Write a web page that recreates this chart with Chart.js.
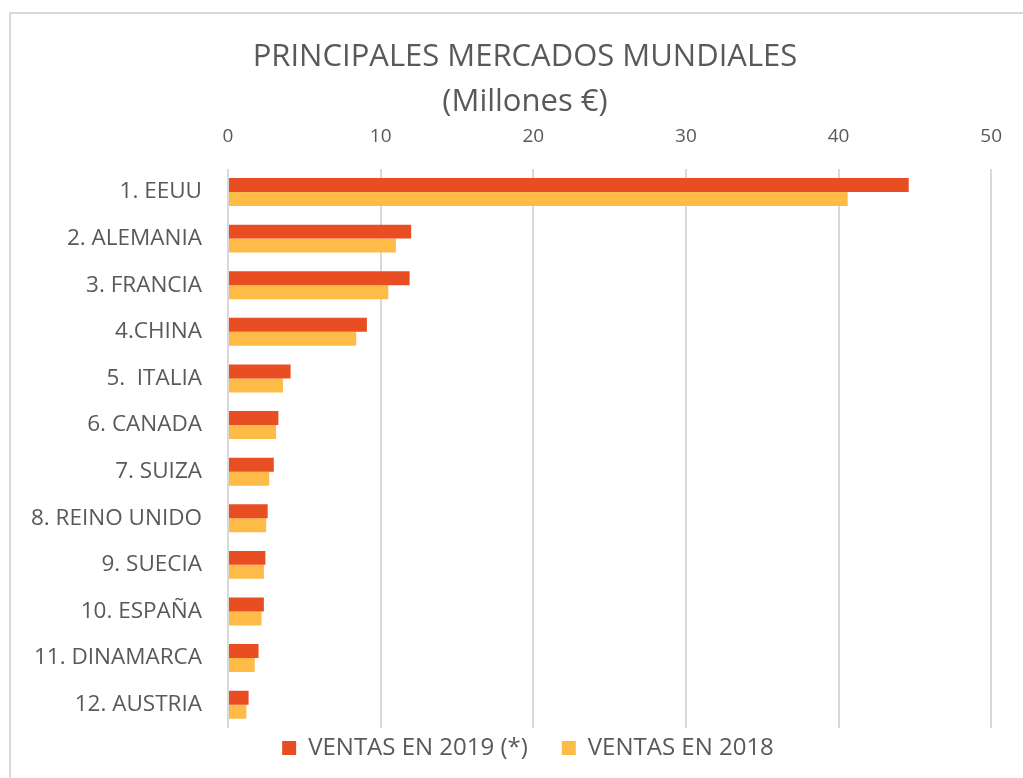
<!DOCTYPE html>
<html>
<head>
<meta charset="utf-8">
<script src="https://cdn.jsdelivr.net/npm/chart.js@4.4.0/dist/chart.umd.min.js"></script>
<style>
html,body{margin:0;padding:0;background:#fff;}
#wrap{position:relative;width:1023px;height:778px;overflow:hidden;}
#frame{position:absolute;left:9px;top:12px;width:1100px;height:800px;border:2px solid #d9d9d9;box-sizing:border-box;}
canvas{position:absolute;left:0;top:0;}
</style>
</head>
<body>
<div id="wrap">
<div id="frame"></div>
<canvas id="c" width="1023" height="778"></canvas>
</div>
<script>
const categories = ["1. EEUU","2. ALEMANIA","3. FRANCIA","4.CHINA","5.  ITALIA","6. CANADA","7. SUIZA","8. REINO UNIDO","9. SUECIA","10. ESPAÑA","11. DINAMARCA","12. AUSTRIA"];
const ventas2019 = [44.6, 12.0, 11.9, 9.1, 4.1, 3.3, 3.0, 2.6, 2.45, 2.35, 2.0, 1.35];
const ventas2018 = [40.6, 11.0, 10.5, 8.4, 3.6, 3.15, 2.7, 2.5, 2.35, 2.2, 1.75, 1.2];
const xTicks = [0, 10, 20, 30, 40, 50];
const titleLines = ["PRINCIPALES MERCADOS MUNDIALES", "(Millones €)"];

const FONT = "'Open Sans', 'Liberation Sans', sans-serif";
const GRAY = "#595959";

// centre title and legend on the framed chart and lift the legend a little, as in the original
const centerBoxes = {
  id: 'centerBoxes',
  afterLayout(chart) {
    if (chart.titleBlock) { chart.titleBlock.left = 57; chart.titleBlock.right = 993; }
    if (chart.legend) {
      chart.legend.left = 63; chart.legend.right = 993;
      chart.legend.top -= 26; chart.legend.bottom -= 26;
    }
  }
};

new Chart(document.getElementById('c'), {
  type: 'bar',
  plugins: [centerBoxes],
  data: {
    labels: categories,
    datasets: [
      {label: "VENTAS EN 2019 (*)", data: ventas2019, backgroundColor: "#E84E22", borderWidth: 0},
      {label: "VENTAS EN 2018", data: ventas2018, backgroundColor: "#FFBB48", borderWidth: 0}
    ]
  },
  options: {
    indexAxis: 'y',
    responsive: false,
    animation: false,
    devicePixelRatio: 1,
    layout: {padding: {left: 10, right: 30, top: 35, bottom: -18}},
    datasets: {bar: {categoryPercentage: 0.6, barPercentage: 1.0}},
    plugins: {
      title: {
        display: true,
        text: titleLines,
        color: GRAY,
        font: {family: FONT, size: 31, weight: 'normal', lineHeight: 1.45},
        padding: {top: 0, bottom: -21}
      },
      legend: {
        position: 'bottom',
        labels: {
          color: GRAY,
          font: {family: FONT, size: 24},
          boxWidth: 14,
          boxHeight: 14,
          padding: 34
        }
      },
      tooltip: {enabled: false}
    },
    scales: {
      x: {
        position: 'top',
        min: 0,
        max: 50,
        afterBuildTicks: (s) => { s.ticks = xTicks.map(v => ({value: v})); },
        ticks: {color: GRAY, font: {family: FONT, size: 19}, padding: 21},
        grid: {color: "#d9d9d9", lineWidth: 2, drawTicks: false},
        border: {display: false}
      },
      y: {
        afterFit: (s) => { s.width = 218; },
        ticks: {color: GRAY, font: {family: FONT, size: 22.5}, padding: 26, autoSkip: false},
        grid: {display: false, drawTicks: false},
        border: {display: false}
      }
    }
  }
});
</script>
</body>
</html>
